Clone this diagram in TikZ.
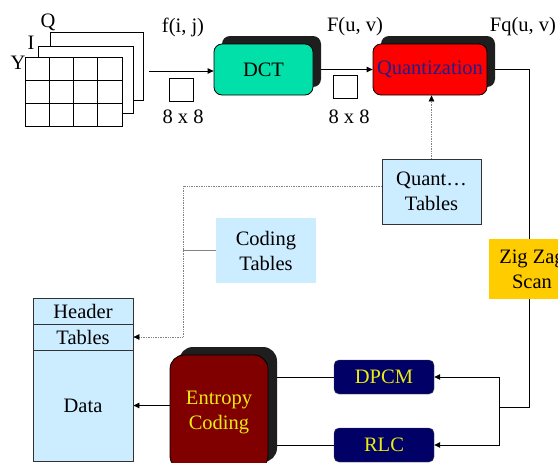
\documentclass[tikz,border=0pt]{standalone}
\usepackage{fontspec}
\setmainfont{Liberation Serif}
\usetikzlibrary{arrows.meta,shadows,backgrounds}
\definecolor{dctgreen}{RGB}{0,224,168}
\definecolor{qred}{RGB}{255,0,0}
\definecolor{qtext}{RGB}{30,30,140}
\definecolor{lblue}{RGB}{204,236,255}
\definecolor{zzyellow}{RGB}{255,204,0}
\definecolor{navybox}{RGB}{0,0,102}
\definecolor{entred}{RGB}{128,0,0}
\definecolor{ytext}{RGB}{235,235,20}
\definecolor{shadowc}{RGB}{30,30,30}
\definecolor{dotc}{RGB}{130,130,130}
\definecolor{edgec}{RGB}{50,50,50}
\begin{document}
\begin{tikzpicture}[x=1pt,y=-1pt,
  every node/.style={font=\fontsize{20.5}{25}\selectfont, inner sep=0pt, align=center},
  plane/.style={draw=black, fill=white, line width=0.8pt},
  smallsq/.style={draw=black, line width=0.8pt, minimum width=24, minimum height=23},
  procbox/.style={draw=black, line width=0.8pt, rounded corners=8pt,
    general shadow={fill=shadowc, shadow xshift=8pt, shadow yshift=8pt, rounded corners=8pt}},
  tabbox/.style={fill=lblue, minimum width=100, minimum height=65},
  stackbox/.style={draw=edgec, fill=lblue, line width=0.8pt, minimum width=100},
  codebox/.style={draw=black!70, fill=navybox, rounded corners=5pt, minimum width=100, minimum height=34, text=ytext},
  conn/.style={line width=0.8pt, draw=black},
  dotconn/.style={densely dotted, line width=0.7pt, draw=dotc},
  tip/.style={-{Triangle[length=6pt,width=5.5pt,color=black]}}
]
\useasboundingbox (0,0) rectangle (558,463);
\clip (0,0) rectangle (558,463);

% image planes
\node[plane, minimum width=93, minimum height=68] (QP) at (96.5,66) {};
\node[plane, minimum width=95, minimum height=67] (IP) at (85.5,79.5) {};
\node[plane, minimum width=97, minimum height=69] (YP) at (73.5,91.5) {};
\foreach \gx in {49.25,73.5,97.75} \draw[line width=0.8pt] (\gx,57) -- (\gx,126);
\foreach \gy in {80,103} \draw[line width=0.8pt] (25,\gy) -- (122,\gy);
\node (Ql) at (48,22) {Q};
\node (Il) at (31,43) {I};
\node (Yl) at (18,63) {Y};

% labels
\node (fij) at (183,27) {f(i, j)};
\node[smallsq] (sq1) at (181,89.5) {};
\node (e1) at (183,117) {8 x 8};
\node (Fuv) at (355,27) {F(u, v)};
\node[smallsq] (sq2) at (345,86.5) {};
\node (e2) at (349,117) {8 x 8};
\node (Fq) at (523,27) {Fq(u, v)};

% processes
\node[procbox, fill=dctgreen, minimum width=99, minimum height=51] (DCT) at (263.5,69.5) {DCT};
\node[procbox, fill=qred, minimum width=114, minimum height=51, text=qtext] (Q) at (430,69.5) {Quantization};

\node[tabbox, draw=edgec, line width=0.8pt, minimum width=99] (QT) at (431.5,191.5) {Quant…\\Tables};
\node[tabbox] (CT) at (266,250.5) {Coding\\Tables};
\node[fill=zzyellow, minimum width=86, minimum height=60] (ZZ) at (532,269) {Zig Zag\\Scan};

\node[stackbox, minimum height=26] (Hd) at (83,311) {Header};
\node[stackbox, minimum height=26] (Tb) at (83,337) {Tables};
\node[stackbox, minimum height=111] (Dt) at (83,405.5) {Data};

\node[draw=black, line width=0.8pt, fill=entred, text=ytext, rounded corners=14pt,
  minimum width=98, minimum height=115,
  general shadow={fill=shadowc, shadow xshift=9pt, shadow yshift=8pt, rounded corners=14pt}] (EC) at (219,412.5) {Entropy\\Coding};

\node[codebox] (DP) at (384,377) {DPCM};
\node[codebox] (RL) at (384,445) {RLC};

\coordinate (src) at (149,71);
\coordinate (zzc) at (529,407);
\coordinate (br) at (499,407);
\coordinate (d1) at (183,186);

\begin{scope}[on background layer]
\draw[conn, tip] (src) -- (src -| DCT.west);
\draw[conn, tip] (DCT.east) -- (Q.west);
\draw[conn] (Q.east) -| (zzc) -- (br);
\draw[conn, tip] (br) |- (DP.east);
\draw[conn, tip] (br) |- (RL.east);
\draw[conn] (DP.west) -- (DP.west -| EC.east);
\draw[conn] (RL.west) -- (RL.west -| EC.east);
\draw[conn, tip] (Dt.east -| EC.west) -- (Dt.east);
\draw[dotconn, tip] (QT.north) -- (QT.north |- Q.south);
\draw[dotconn, tip] (QT.west |- d1) -- (d1) |- (Tb.east);
\draw[line width=0.6pt, draw=dotc] (CT.west) -- (CT.west -| d1);
\end{scope}
\end{tikzpicture}
\end{document}
